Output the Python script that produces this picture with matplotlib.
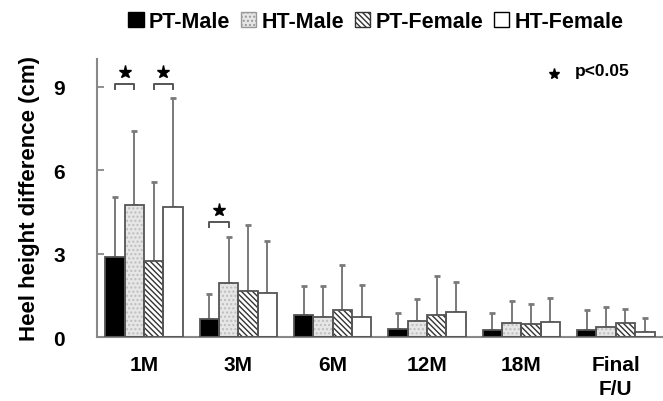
import numpy as np
import matplotlib
matplotlib.use('Agg')
import matplotlib.pyplot as plt
from matplotlib.patches import Patch

plt.rcParams['font.family'] = ['Liberation Sans', 'DejaVu Sans']
plt.rcParams['font.weight'] = 'bold'
plt.rcParams['axes.labelweight'] = 'bold'
plt.rcParams['hatch.linewidth'] = 1.0

groups = ['1M', '3M', '6M', '12M', '18M', 'Final\nF/U']
series = ['PT-Male', 'HT-Male', 'PT-Female', 'HT-Female']

# mean heel height difference (cm)
pt_male = [2.87, 0.65, 0.80, 0.29, 0.25, 0.26]
ht_male = [4.75, 1.93, 0.72, 0.59, 0.49, 0.35]
pt_female = [2.72, 1.64, 0.98, 0.80, 0.46, 0.49]
ht_female = [4.69, 1.57, 0.71, 0.91, 0.53, 0.17]

# standard deviation (upper error bar only)
pt_male_sd = [2.18, 0.90, 1.05, 0.58, 0.62, 0.71]
ht_male_sd = [2.67, 1.68, 1.10, 0.78, 0.82, 0.72]
pt_female_sd = [2.87, 2.39, 1.61, 1.39, 0.73, 0.52]
ht_female_sd = [3.90, 1.89, 1.17, 1.06, 0.86, 0.51]

# significant pairs: (group index, bar a, bar b, bracket height)
sig_pairs = [(0, 0, 1, 9.1), (0, 2, 3, 9.1), (1, 0, 1, 4.15)]

means = [pt_male, ht_male, pt_female, ht_female]
sds = [pt_male_sd, ht_male_sd, pt_female_sd, ht_female_sd]
faces = ['black', '#e6e6e6', 'white', 'white']
hatches = [None, '....', '\\\\\\\\\\\\', None]
hatch_cols = ['black', '#bdbdbd', '#333333', 'black']

fig = plt.figure(figsize=(6.63, 4.02), dpi=100)
ax = fig.add_axes([0.146, 0.159, 0.854, 0.692])

x = np.arange(len(groups))
w = 0.205
for i in range(4):
    xs = x + (i - 1.5) * w
    ax.bar(xs, means[i], w, color=faces[i], edgecolor=hatch_cols[i],
           hatch=hatches[i], linewidth=0, zorder=2)
    ax.bar(xs, means[i], w, color='none', edgecolor='#555555',
           linewidth=1.3, zorder=3)
    ax.errorbar(xs, means[i], yerr=[np.zeros(len(groups)), sds[i]],
                fmt='none', ecolor='#7a7a7a', elinewidth=1.4,
                capsize=2.5, capthick=2, zorder=1)

for g, a, b, h in sig_pairs:
    xa = x[g] + (a - 1.5) * w
    xb = x[g] + (b - 1.5) * w
    ax.plot([xa, xa, xb, xb], [h - 0.18, h, h, h - 0.18],
            color='#555555', lw=1.4, solid_joinstyle='round')
    ax.plot((xa + xb) / 2, h + 0.42, marker='*', ms=9.5, color='black')

ax.plot(4.34, 9.46, marker='*', ms=8, color='black', clip_on=False)
ax.text(4.57, 9.57, 'p<0.05', fontsize=12.5, va='center', ha='left')

ax.set_xlim(-0.5, 5.5)
ax.set_ylim(0, 10)
ax.set_yticks([0, 3, 6, 9])
ax.set_xticks(x)
ax.set_xticklabels(groups, fontsize=15, fontweight='bold', linespacing=1.3)
ax.set_yticklabels(['0', '3', '6', '9'], fontsize=15, fontweight='bold')
ax.tick_params(axis='y', direction='in', length=5, width=1.3,
               color='#888888', pad=23)
ax.tick_params(axis='x', length=0, pad=13)
ax.set_ylabel('Heel height difference (cm)', fontsize=16, fontweight='bold')
ax.yaxis.set_label_coords(-0.1, 0.5)

for s in ['top', 'right']:
    ax.spines[s].set_visible(False)
for s in ['left', 'bottom']:
    ax.spines[s].set_color('#888888')
    ax.spines[s].set_linewidth(1.5)

handles = [Patch(facecolor=faces[i], edgecolor=hatch_cols[i], hatch=hatches[i],
                 linewidth=1.0) for i in range(4)]
handles[1].set_edgecolor('#999999')
fig.legend(handles, series, loc='center', bbox_to_anchor=(0.567, 0.945),
           ncol=4, frameon=False, fontsize=15.5, handlelength=0.7,
           handleheight=0.7, handletextpad=0.25, columnspacing=0.5,
           borderaxespad=0)

fig.savefig('out.png', dpi=100)
